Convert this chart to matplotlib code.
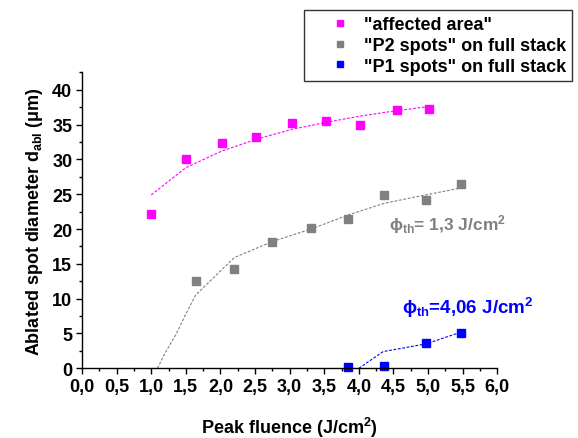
import matplotlib
matplotlib.use("Agg")
import matplotlib.pyplot as plt

plt.rcParams['font.family'] = ['Liberation Sans', 'DejaVu Sans']
plt.rcParams['font.weight'] = 'bold'
plt.rcParams['mathtext.fontset'] = 'custom'
plt.rcParams['mathtext.rm'] = 'Liberation Sans:bold'
plt.rcParams['mathtext.bf'] = 'Liberation Sans:bold'
plt.rcParams['mathtext.it'] = 'Liberation Sans:bold'

# measured spot diameters (um) vs peak fluence (J/cm2)
area_x = [1.0, 1.5, 2.02, 2.52, 3.03, 3.52, 4.01, 4.55, 5.02]
area_y = [22.2, 30.1, 32.3, 33.2, 35.2, 35.5, 35.0, 37.1, 37.3]
p2_x = [1.64, 2.20, 2.75, 3.31, 3.84, 4.37, 4.97, 5.48]
p2_y = [12.6, 14.3, 18.1, 20.2, 21.4, 24.9, 24.2, 26.4]
p1_x = [3.84, 4.37, 4.97, 5.48]
p1_y = [0.15, 0.3, 3.7, 5.1]

# fit curves
area_fit_x = [1.0, 1.5, 2.02, 2.52, 3.03, 3.52, 4.01, 4.55, 5.02]
area_fit_y = [24.9, 28.8, 31.2, 32.9, 34.3, 35.3, 36.2, 37.0, 37.6]
p2_flat_x = [0.55, 1.09]
p2_flat_y = [0.0, 0.0]
p2_fit_x = [1.09, 1.2, 1.36, 1.5, 1.64, 2.20, 2.75, 3.31, 3.84, 4.37, 4.97, 5.48]
p2_fit_y = [0.0, 2.2, 4.9, 7.8, 10.5, 15.9, 18.2, 20.0, 22.0, 23.7, 24.9, 25.9]
p1_fit_x = [4.0, 4.35, 4.97, 5.48]
p1_fit_y = [0.0, 2.4, 3.5, 5.2]

xticks = [0.0, 0.5, 1.0, 1.5, 2.0, 2.5, 3.0, 3.5, 4.0, 4.5, 5.0, 5.5, 6.0]
xtick_labels = ["0,0", "0,5", "1,0", "1,5", "2,0", "2,5", "3,0", "3,5",
                "4,0", "4,5", "5,0", "5,5", "6,0"]
yticks = [0, 5, 10, 15, 20, 25, 30, 35, 40]

magenta = "#FF00FF"
grey = "#808080"
blue = "#0000FF"

fig = plt.figure(figsize=(5.78, 4.39), dpi=100)
ax = fig.add_axes([0.1419, 0.1588, 0.7185, 0.6742])

ax.plot(area_fit_x, area_fit_y, color=magenta, lw=0.8, ls=(0, (2.5, 1.5)))
ax.plot(p2_flat_x, p2_flat_y, color="#c8c8c8", lw=0.8, ls=(0, (2.5, 1.5)))
ax.plot(p2_fit_x, p2_fit_y, color=grey, lw=0.8, ls=(0, (2.5, 1.5)))
ax.plot(p1_fit_x, p1_fit_y, color=blue, lw=0.8, ls=(0, (2.5, 1.5)))

ax.plot(area_x, area_y, 's', color=magenta, ms=5.5, label='"affected area"', clip_on=False)
ax.plot(p2_x, p2_y, 's', color=grey, ms=5.5, label='"P2 spots" on full stack', clip_on=False)
ax.plot(p1_x, p1_y, 's', color=blue, ms=5.5, label='"P1 spots" on full stack', clip_on=False)

ax.text(4.44, 19.9, r'$\phi_{th}$= 1,3 J/cm$^{2}$', color=grey, fontsize=12.5,
        fontweight='bold', ha='left', va='baseline')
ax.text(4.62, 7.9, r'$\phi_{th}$=4,06 J/cm$^{2}$', color=blue, fontsize=13.5,
        fontweight='bold', ha='left', va='baseline')

ax.set_xlim(0, 6.0)
ax.set_ylim(0, 40.5)
ax.set_xticks(xticks)
ax.set_xticklabels(xtick_labels)
ax.set_xticks([x + 0.25 for x in xticks[:-1]], minor=True)
ax.set_yticks(yticks)
ax.set_yticks([y + 2.5 for y in yticks], minor=True)
ax.spines['top'].set_visible(False)
ax.spines['right'].set_visible(False)
for s in ['left', 'bottom']:
    ax.spines[s].set_linewidth(1.0)
ax.tick_params(which='major', direction='out', length=4, width=1.0, labelsize=13, pad=3)
ax.tick_params(which='minor', direction='out', length=2.5, width=1.0)
for lab in ax.get_xticklabels() + ax.get_yticklabels():
    lab.set_fontweight('bold')

ax.set_xlabel(r'Peak fluence (J/cm$^{2}$)', fontsize=13, fontweight='bold', labelpad=14)
ax.set_ylabel(r'Ablated spot diameter d$_{abl}$ ($\mathrm{\mu}$m)', fontsize=13,
              fontweight='bold', labelpad=5)

leg = fig.legend(loc='upper right', bbox_to_anchor=(0.9896, 0.975), fontsize=13,
                 frameon=True, fancybox=False, edgecolor='black', borderpad=0.35,
                 handlelength=3.3, handletextpad=-0.35, labelspacing=0.2, markerscale=0.9,
                 borderaxespad=0)
leg.get_frame().set_linewidth(1.0)
for t in leg.get_texts():
    t.set_fontweight('bold')

fig.savefig("out.png", dpi=100)
